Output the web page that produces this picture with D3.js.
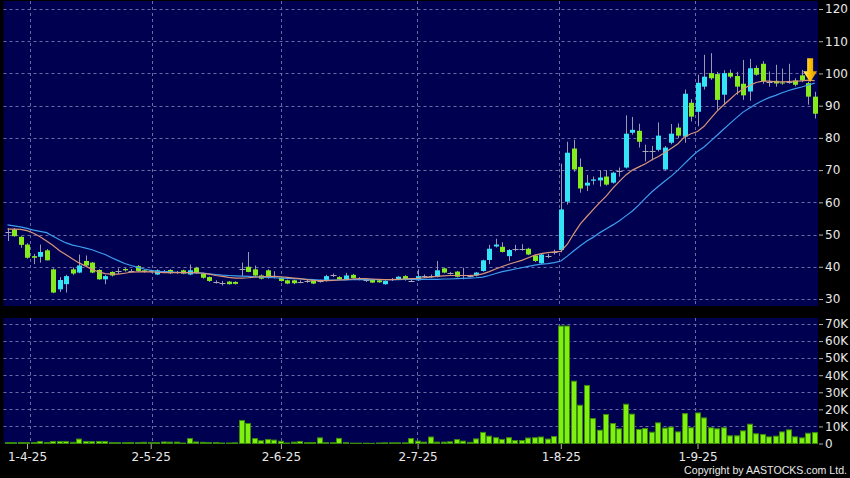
<!DOCTYPE html>
<html>
<head>
<meta charset="utf-8">
<script src="https://cdn.jsdelivr.net/npm/d3@7"></script>
<style>
  body { margin: 0; background: #000; }
  svg { display: block; }
</style>
</head>
<body>
<svg id="chart" width="850" height="478"></svg>
<script>
// daily bars, index 0 = first bar on the chart (late March 2025)
var open = [50.6, 51.6, 49.3, 46.9, 43.3, 43.1, 45.1, 39.2, 33.0, 34.6,
  39.2, 38.2, 41.8, 41.3, 39.0, 36.1, 38.4, 38.6, 39.3, 38.8,
  40.2, 38.9, 38.9, 37.6, 38.6, 39.0, 38.3, 38.9, 37.6, 39.7,
  37.9, 36.8, 35.3, 35.1, 35.4, 35.3, 39.3, 40.0, 39.2, 37.3,
  38.9, 37.0, 36.6, 35.8, 35.8, 35.4, 35.5, 35.8, 35.6, 35.6,
  37.2, 36.8, 36.1, 37.5, 36.3, 35.8, 36.1, 35.8, 34.6, 36.1,
  36.1, 37.1, 35.8, 35.8, 37.1, 37.0, 36.9, 39.5, 38.0, 38.5,
  37.3, 37.1, 37.3, 38.7, 42.1, 46.3, 46.2, 43.3, 45.6, 45.6,
  45.6, 43.5, 41.1, 43.3, 44.6, 45.2, 60.2, 76.7, 71.0, 65.2,
  66.7, 66.8, 68.0, 66.1, 69.5, 70.8, 81.6, 82.2, 76.0, 75.8,
  76.3, 70.2, 78.5, 83.2, 80.4, 90.9, 88.1, 95.9, 100.1, 99.8,
  93.4, 100.2, 99.2, 96.8, 94.4, 101.7, 103.0, 97.4, 97.7, 97.2,
  97.4, 97.8, 99.4, 97.0, 92.8];
var high = [52.0, 52.0, 49.5, 47.3, 44.0, 46.9, 45.5, 39.5, 36.8, 37.5,
  39.8, 43.8, 43.5, 41.5, 39.3, 37.5, 38.6, 39.5, 39.6, 39.3,
  40.5, 39.2, 39.1, 39.2, 39.0, 39.3, 38.7, 39.1, 40.7, 40.0,
  38.2, 37.0, 35.8, 35.6, 35.6, 35.5, 41.3, 44.6, 40.4, 37.6,
  39.2, 38.6, 36.9, 36.0, 36.0, 35.8, 35.9, 36.0, 36.0, 37.5,
  37.9, 37.1, 38.1, 37.8, 36.8, 36.2, 36.3, 36.0, 35.8, 36.5,
  37.1, 37.4, 36.1, 39.2, 37.6, 37.6, 41.8, 39.7, 38.4, 38.7,
  39.7, 37.5, 38.4, 42.2, 46.8, 48.7, 47.6, 45.5, 46.8, 47.0,
  45.9, 43.8, 44.0, 44.0, 45.3, 72.0, 78.8, 79.4, 73.6, 68.5,
  68.0, 70.0, 70.0, 69.5, 70.8, 87.0, 86.5, 84.4, 77.9, 77.5,
  84.8, 77.5, 84.3, 84.5, 95.0, 92.0, 99.6, 105.8, 106.3, 100.5,
  101.0, 101.2, 100.5, 104.2, 104.5, 102.5, 103.8, 100.6, 102.7, 101.5,
  103.0, 98.5, 101.1, 97.5, 94.3];
var low = [48.0, 49.3, 45.9, 42.5, 40.8, 41.3, 42.0, 31.8, 32.2, 32.0,
  37.5, 38.0, 40.2, 38.0, 36.0, 34.6, 37.0, 37.8, 38.5, 38.3,
  38.5, 38.2, 38.2, 37.4, 38.2, 37.8, 37.8, 37.7, 37.4, 37.8,
  36.3, 35.3, 34.8, 34.2, 34.5, 34.5, 37.1, 38.3, 37.0, 36.1,
  36.3, 36.4, 35.4, 34.6, 34.6, 34.9, 35.0, 34.6, 35.1, 35.4,
  36.8, 35.9, 35.9, 36.3, 35.8, 35.3, 35.0, 35.0, 34.4, 35.6,
  36.0, 35.7, 35.3, 35.6, 36.5, 36.5, 36.7, 38.0, 37.6, 36.7,
  36.1, 36.7, 37.0, 38.5, 40.8, 46.0, 44.4, 41.8, 44.8, 45.0,
  43.6, 41.5, 40.8, 42.7, 43.8, 44.5, 59.3, 69.5, 63.0, 63.5,
  65.5, 64.9, 65.2, 65.8, 68.0, 70.5, 81.0, 77.0, 72.7, 73.0,
  75.8, 70.0, 78.0, 80.0, 78.5, 85.1, 83.6, 95.0, 98.0, 88.7,
  90.3, 98.5, 93.4, 91.8, 91.5, 99.3, 96.8, 95.9, 95.9, 96.5,
  96.8, 96.0, 97.3, 90.3, 86.0];
var close = [50.7, 49.5, 46.8, 42.8, 42.8, 44.6, 42.0, 32.0, 35.9, 37.1,
  37.9, 40.4, 40.4, 38.2, 36.1, 37.1, 37.3, 38.6, 38.9, 38.8,
  38.7, 38.4, 38.5, 38.9, 38.6, 38.0, 38.3, 37.9, 38.9, 38.0,
  36.6, 35.6, 35.3, 35.1, 34.6, 34.7, 39.4, 38.4, 37.3, 36.3,
  36.5, 37.1, 35.6, 34.8, 34.9, 35.4, 35.5, 34.8, 35.6, 37.1,
  37.3, 36.1, 37.3, 36.5, 36.3, 35.8, 35.1, 35.2, 35.6, 36.1,
  36.9, 35.9, 35.7, 37.1, 37.1, 37.0, 38.9, 38.2, 38.0, 36.9,
  37.3, 37.1, 38.2, 42.0, 45.6, 46.9, 44.6, 45.2, 45.6, 45.6,
  43.8, 41.8, 43.8, 43.3, 44.6, 57.8, 75.4, 70.2, 64.3, 66.1,
  67.1, 67.7, 65.5, 69.2, 69.6, 81.3, 82.5, 78.8, 76.0, 75.8,
  80.7, 77.0, 81.3, 80.7, 93.7, 86.6, 97.1, 99.0, 98.5, 91.8,
  100.1, 99.0, 95.9, 93.2, 101.6, 99.6, 97.5, 97.4, 96.9, 97.0,
  97.4, 96.5, 97.8, 92.8, 87.5];

// moving averages as drawn (short = orange, long = blue)
var maShort = [51.7, 51.7, 51.6, 51.2, 50.4, 49.3, 48.0, 46.6, 45.0, 43.7,
  42.4, 41.2, 40.2, 39.2, 38.4, 37.9, 37.7, 37.7, 38.0, 38.3,
  38.4, 38.5, 38.4, 38.3, 38.2, 38.2, 38.2, 38.2, 38.2, 38.2,
  38.0, 37.7, 37.3, 37.0, 36.7, 36.5, 36.5, 36.6, 36.8, 36.9,
  37.0, 37.0, 36.9, 36.7, 36.5, 36.3, 36.0, 35.8, 35.7, 35.7,
  35.8, 35.9, 36.0, 36.2, 36.3, 36.3, 36.2, 36.1, 36.0, 36.0,
  36.1, 36.2, 36.3, 36.4, 36.6, 36.8, 37.0, 37.2, 37.3, 37.3,
  37.3, 37.3, 37.4, 37.8, 38.5, 39.3, 40.1, 40.8, 41.4, 42.0,
  42.8, 43.6, 44.1, 44.4, 44.6, 44.8, 47.0, 50.3, 53.3, 55.6,
  57.8, 60.0, 62.0, 64.4, 66.5, 68.5, 70.0, 71.0, 72.0, 73.2,
  74.2, 75.5, 76.8, 78.2, 80.3, 81.3, 82.0, 83.6, 86.0, 88.3,
  90.2, 92.0, 93.8, 95.2, 96.3, 97.2, 97.6, 97.6, 97.4, 97.4,
  97.5, 97.6, 97.7, 97.9, 97.8];
var maLong = [53.0, 52.7, 52.4, 51.9, 51.4, 51.0, 50.6, 49.5, 48.4, 47.4,
  46.7, 46.3, 45.8, 45.3, 44.5, 43.8, 42.8, 41.9, 41.0, 40.4,
  39.8, 39.3, 38.9, 38.6, 38.5, 38.4, 38.3, 38.2, 38.2, 38.1,
  38.0, 37.8, 37.6, 37.4, 37.3, 37.2, 37.1, 37.0, 36.9, 36.8,
  36.7, 36.6, 36.5, 36.4, 36.3, 36.2, 36.1, 36.0, 35.9, 35.9,
  35.9, 35.9, 35.9, 36.0, 36.0, 36.0, 36.0, 36.0, 36.0, 36.0,
  36.0, 36.1, 36.1, 36.1, 36.1, 36.1, 36.1, 36.2, 36.2, 36.3,
  36.4, 36.5, 36.6, 36.8, 37.3, 37.9, 38.5, 38.9, 39.3, 39.7,
  40.1, 40.5, 40.8, 41.0, 41.3, 41.8, 43.3, 45.0, 46.5, 48.0,
  49.2, 50.6, 51.8, 53.0, 54.3, 55.8, 57.3, 59.2, 61.3, 63.3,
  65.0, 66.6, 68.2, 70.0, 72.0, 74.0, 75.8, 77.2, 79.0, 80.8,
  82.7, 84.5, 86.3, 88.0, 89.3, 90.5, 91.6, 92.5, 93.2, 94.0,
  94.7, 95.3, 95.8, 96.4, 97.0];

// volume in thousands of shares
var volK = [0.5, 0.5, 0.6, 0.5, 0.6, 1.2, 0.6, 1.2, 1.2, 1.2,
  0.7, 2.6, 1.2, 1.1, 1.2, 1.2, 0.5, 0.5, 0.5, 0.6,
  0.5, 0.7, 0.6, 0.5, 0.9, 0.8, 0.8, 0.3, 2.9, 0.9,
  0.7, 0.5, 0.6, 0.3, 0.3, 0.4, 13.5, 11.7, 2.9, 1.6,
  2.3, 2.0, 1.3, 0.3, 0.8, 1.2, 0.5, 0.6, 3.3, 0.5,
  0.5, 3.0, 0.5, 0.2, 0.2, 0.2, 0.1, 0.3, 0.4, 0.4,
  0.4, 0.4, 2.9, 1.4, 0.8, 3.8, 0.8, 0.8, 1.0, 2.3,
  1.4, 0.7, 2.7, 6.5, 4.3, 3.4, 2.4, 3.4, 1.7, 1.7,
  3.2, 3.4, 3.8, 2.6, 4.1, 68.8, 68.8, 36.5, 22.4, 34.0,
  14.6, 7.8, 17.0, 11.7, 8.6, 23.0, 17.2, 8.2, 8.8, 6.6,
  12.1, 9.0, 9.6, 6.8, 17.5, 9.2, 17.9, 15.0, 9.2, 8.6,
  9.2, 4.5, 4.5, 7.4, 11.3, 5.7, 5.3, 3.9, 4.3, 6.8,
  8.0, 3.9, 3.3, 6.0, 6.4];

var tickIndex = [3, 22, 42, 63, 85, 106];
var tickLabels = ['1-4-25', '2-5-25', '2-6-25', '2-7-25', '1-8-25', '1-9-25'];
var priceTicks = [30, 40, 50, 60, 70, 80, 90, 100, 110, 120];
var volTicks = [0, 10, 20, 30, 40, 50, 60, 70];
var arrowMark = { index: 123.3, price: 97.3 };

var navy = '#000050';
var gridColor = '#6a6aa6';
var upColor = '#33e4f4';
var downColor = '#84ec1c';
var flatColor = '#a8a8b4';

var svg = d3.select('#chart');
svg.append('rect').attr('width', 850).attr('height', 478).attr('fill', '#000');

var plotLeft = 3.5, plotRight = 818;
var x = d3.scaleLinear().domain([0, close.length - 1]).range([7.5, 814.7]);
var yP = d3.scaleLinear().domain([30, 120]).range([299, 9]);
var yV = d3.scaleLinear().domain([0, 70]).range([443.5, 324]);
// vertical grid lines sit a little off the date ticks in the original
var gridShift = d3.scaleLinear().domain([tickIndex[0], tickIndex[tickIndex.length - 1]]).range([2.5, -3]);

// panels
svg.append('rect').attr('x', plotLeft).attr('y', 1).attr('width', plotRight - plotLeft).attr('height', 305).attr('fill', navy);
svg.append('rect').attr('x', plotLeft).attr('y', 318).attr('width', plotRight - plotLeft).attr('height', 126).attr('fill', navy);

// grid
var grid = svg.append('g').attr('stroke', gridColor).attr('stroke-width', 1).attr('stroke-dasharray', '3,3');
grid.selectAll('line.hp').data(priceTicks).enter().append('line')
  .attr('x1', plotLeft).attr('x2', plotRight)
  .attr('y1', function(d) { return Math.round(yP(d)) + 0.5; })
  .attr('y2', function(d) { return Math.round(yP(d)) + 0.5; });
grid.selectAll('line.hv').data(volTicks.slice(1)).enter().append('line')
  .attr('x1', plotLeft).attr('x2', plotRight)
  .attr('y1', function(d) { return Math.round(yV(d)) + 0.5; })
  .attr('y2', function(d) { return Math.round(yV(d)) + 0.5; });
tickIndex.forEach(function(i) {
  var gx = Math.round(x(i) + gridShift(i)) + 0.5;
  grid.append('line').attr('x1', gx).attr('x2', gx).attr('y1', 1).attr('y2', 306);
  grid.append('line').attr('x1', gx).attr('x2', gx).attr('y1', 318).attr('y2', 444);
});

// candles
var bars = close.map(function(c, i) {
  return { i: i, o: open[i], h: high[i], l: low[i], c: c, v: volK[i] };
});
function colorOf(d) {
  if (Math.abs(d.c - d.o) < 0.15) return flatColor;
  return d.c > d.o ? upColor : downColor;
}
function cx(d) { return Math.round(x(d.i)) + 0.5; }

var candles = svg.append('g');
candles.selectAll('line.wick').data(bars).enter().append('line')
  .attr('x1', cx).attr('x2', cx)
  .attr('y1', function(d) { return yP(d.h); })
  .attr('y2', function(d) { return yP(d.l); })
  .attr('stroke', '#9a9aac').attr('stroke-width', 1);
candles.selectAll('rect.body').data(bars.filter(function(d) { return colorOf(d) !== flatColor; }))
  .enter().append('rect')
  .attr('x', function(d) { return cx(d) - 2.5; })
  .attr('width', 5)
  .attr('y', function(d) { return yP(Math.max(d.o, d.c)); })
  .attr('height', function(d) { return Math.max(1, Math.abs(yP(d.o) - yP(d.c))); })
  .attr('fill', colorOf);
candles.selectAll('line.flat').data(bars.filter(function(d) { return colorOf(d) === flatColor; }))
  .enter().append('line')
  .attr('x1', function(d) { return cx(d) - 3; })
  .attr('x2', function(d) { return cx(d) + 3; })
  .attr('y1', function(d) { return Math.round(yP(d.c)) + 0.5; })
  .attr('y2', function(d) { return Math.round(yP(d.c)) + 0.5; })
  .attr('stroke', flatColor).attr('stroke-width', 1);

// moving averages
var maLine = d3.line().x(function(d, i) { return x(i); }).y(function(d) { return yP(d); });
svg.append('path').datum(maLong).attr('d', maLine)
  .attr('fill', 'none').attr('stroke', '#3d9ef0').attr('stroke-width', 1.2);
svg.append('path').datum(maShort).attr('d', maLine)
  .attr('fill', 'none').attr('stroke', '#d9957a').attr('stroke-width', 1.2);

// arrow marker
var defs = svg.append('defs');
var grad = defs.append('linearGradient').attr('id', 'arrowFill').attr('x1', '0').attr('x2', '1').attr('y1', '0').attr('y2', '0');
grad.append('stop').attr('offset', '0').attr('stop-color', '#fff0a0');
grad.append('stop').attr('offset', '0.45').attr('stop-color', '#ffc400');
grad.append('stop').attr('offset', '1').attr('stop-color', '#d99000');
var ax = x(arrowMark.index), ay = yP(arrowMark.price);
svg.append('path')
  .attr('d', 'M' + (ax - 3) + ',' + (ay - 24) + 'L' + (ax + 3) + ',' + (ay - 24) +
    'L' + (ax + 3) + ',' + (ay - 11) + 'L' + (ax + 7) + ',' + (ay - 11) +
    'L' + ax + ',' + ay + 'L' + (ax - 7) + ',' + (ay - 11) +
    'L' + (ax - 3) + ',' + (ay - 11) + 'Z')
  .attr('fill', 'url(#arrowFill)');

// volume bars
svg.append('g').selectAll('rect').data(bars).enter().append('rect')
  .attr('x', function(d) { return Math.round(x(d.i) - 3) + 0.5; })
  .attr('width', 5)
  .attr('y', function(d) { return yV(d.v); })
  .attr('height', function(d) { return yV(0) - yV(d.v); })
  .attr('fill', '#80f010').attr('stroke', '#3a8c08').attr('stroke-width', 1);

// axes
function styleAxis(g) {
  g.select('.domain').remove();
  g.selectAll('.tick line').attr('stroke', '#b0b0b0');
  g.selectAll('.tick text').attr('fill', '#e8e8e8')
    .attr('font-family', '"DejaVu Sans", sans-serif').attr('font-size', 12);
}
svg.append('g').attr('transform', 'translate(819,0)')
  .call(d3.axisRight(yP).tickValues(priceTicks).tickSize(4).tickPadding(2))
  .call(styleAxis);
svg.append('g').attr('transform', 'translate(819,0)')
  .call(d3.axisRight(yV).tickValues(volTicks).tickSize(4).tickPadding(2)
    .tickFormat(function(d) { return d === 0 ? '0' : d + 'K'; }))
  .call(styleAxis);
svg.append('g').attr('transform', 'translate(0,444)')
  .call(d3.axisBottom(x).tickValues(tickIndex).tickSize(5).tickPadding(3)
    .tickFormat(function(d, k) { return tickLabels[k]; }))
  .call(styleAxis);

svg.append('text').attr('x', 847).attr('y', 474).attr('text-anchor', 'end')
  .attr('fill', '#e8e8e8').attr('font-family', '"Liberation Sans", Arial, sans-serif').attr('font-size', 10.6)
  .text('Copyright by AASTOCKS.com Ltd.');
</script>
</body>
</html>
